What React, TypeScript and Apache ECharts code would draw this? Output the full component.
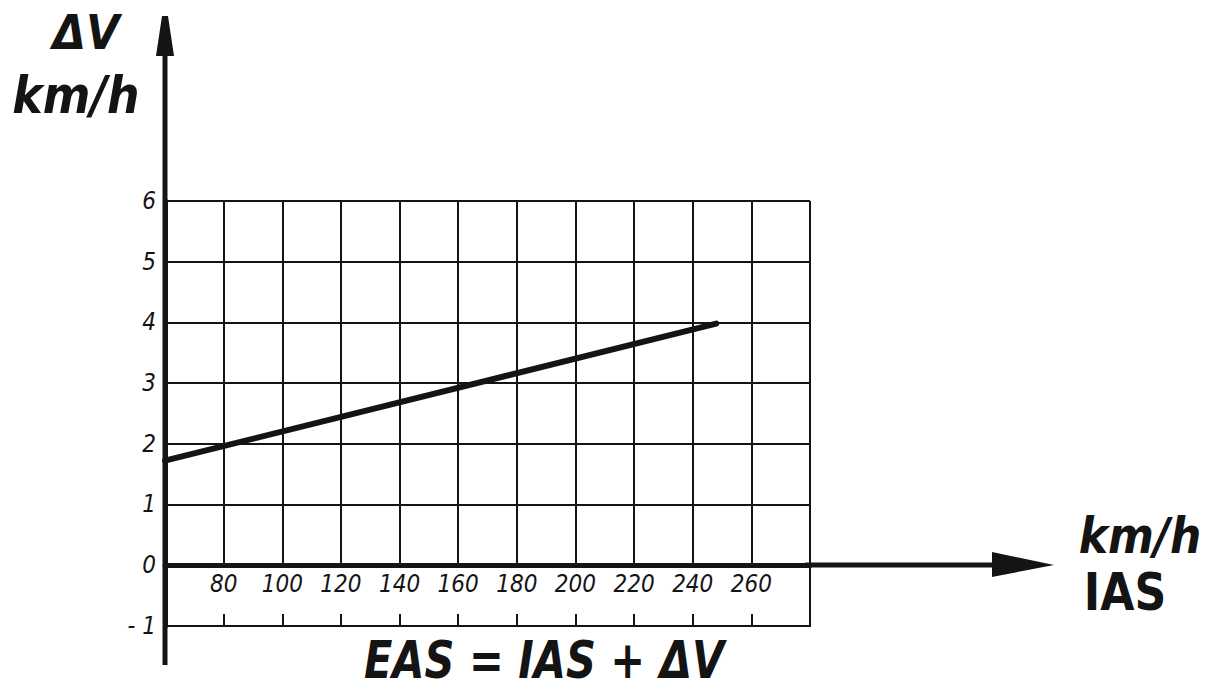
import React, { useEffect, useRef } from "react";
import * as echarts from "echarts";

// Data
const ias = [60, 248];            // km/h IAS
const deltaV = [1.72, 3.98];      // km/h correction
const xTickLabels = ["80", "100", "120", "140", "160", "180", "200", "220", "240", "260"];
const yTickLabels = ["0", "1", "2", "3", "4", "5", "6"];
const yLowerLabel = "- 1";

const INK = "#141414";
const LABEL_FONT = "'Liberation Sans Narrow', 'DejaVu Sans Condensed', 'Liberation Sans', sans-serif";
const BIG_FONT = "'DejaVu Sans', 'Liberation Sans', sans-serif";

export default function App() {
  const ref = useRef<HTMLDivElement>(null);

  useEffect(() => {
    if (!ref.current) return;
    const chart = echarts.init(ref.current, undefined, { renderer: "svg" });

    const option: any = {
      animation: false,
      backgroundColor: "#ffffff",
      grid: [
        { left: 165, right: 406, top: 201, height: 364 },
        { left: 165, right: 406, top: 565, height: 61 },
        { left: 165, right: 406, top: 614, height: 12 },
      ],
      xAxis: [
        {
          gridIndex: 0,
          type: "value",
          min: 60,
          max: 280,
          interval: 20,
          axisLine: { show: true, onZero: false, lineStyle: { color: INK, width: 5 } },
          axisTick: { show: false },
          axisLabel: {
            show: true,
            margin: 7,
            color: INK,
            fontSize: 24,
            fontStyle: "italic",
            fontFamily: LABEL_FONT,
            formatter: (v: number) => (xTickLabels.includes(String(v)) ? String(v) : ""),
          },
          splitLine: { show: true, lineStyle: { color: INK, width: 2 } },
        },
        {
          gridIndex: 1,
          type: "value",
          min: 60,
          max: 280,
          interval: 20,
          position: "bottom",
          axisLine: { show: true, onZero: false, lineStyle: { color: INK, width: 2 } },
          axisTick: { show: false },
          axisLabel: { show: false },
          splitLine: { show: false },
        },
        {
          gridIndex: 2,
          type: "value",
          min: 60,
          max: 280,
          interval: 20,
          axisLine: { show: false },
          axisTick: { show: false },
          axisLabel: { show: false },
          splitLine: { show: true, lineStyle: { color: INK, width: 2 } },
        },
      ],
      yAxis: [
        {
          gridIndex: 0,
          type: "value",
          min: 0,
          max: 6,
          interval: 1,
          axisLine: { show: true, onZero: false, lineStyle: { color: INK, width: 5 } },
          axisTick: { show: false },
          axisLabel: {
            show: true,
            margin: 9,
            color: INK,
            fontSize: 24,
            fontStyle: "italic",
            fontFamily: LABEL_FONT,
            formatter: (v: number) => (yTickLabels.includes(String(v)) ? String(v) : ""),
          },
          splitLine: { show: true, lineStyle: { color: INK, width: 2 } },
        },
        {
          gridIndex: 1,
          type: "value",
          min: -1,
          max: 0,
          interval: 1,
          axisLine: { show: true, onZero: false, lineStyle: { color: INK, width: 5 } },
          axisTick: { show: false },
          axisLabel: {
            show: true,
            margin: 9,
            color: INK,
            fontSize: 24,
            fontStyle: "italic",
            fontFamily: LABEL_FONT,
            formatter: (v: number) => (v === -1 ? yLowerLabel : ""),
          },
          splitLine: { show: false },
        },
        {
          gridIndex: 1,
          type: "value",
          position: "right",
          min: -1,
          max: 0,
          interval: 1,
          axisLine: { show: true, onZero: false, lineStyle: { color: INK, width: 2 } },
          axisTick: { show: false },
          axisLabel: { show: false },
          splitLine: { show: false },
        },
        {
          gridIndex: 2,
          type: "value",
          show: false,
          min: 0,
          max: 1,
        },
      ],
      series: [
        {
          type: "line",
          xAxisIndex: 0,
          yAxisIndex: 0,
          data: ias.map((x, i) => [x, deltaV[i]]),
          symbol: "none",
          lineStyle: { color: INK, width: 6, cap: "round" },
          z: 5,
        },
      ],
    };
    chart.setOption(option);

    const origin = chart.convertToPixel({ gridIndex: 0 }, [60, 0]) as number[];
    const ax0 = origin[0];
    const ay0 = origin[1];

    const bigText = (text: string, x: number, y: number, size: number, sx: number, italic: boolean) => ({
      type: "text",
      x,
      y,
      scaleX: sx,
      style: {
        text,
        fill: INK,
        font: `${italic ? "italic " : ""}bold ${size}px ${BIG_FONT}`,
        align: "center",
        verticalAlign: "middle",
      },
      z: 10,
    });

    chart.setOption({
      graphic: [
        // vertical axis extension with arrow
        {
          type: "line",
          shape: { x1: ax0, y1: 50, x2: ax0, y2: 665 },
          style: { stroke: INK, lineWidth: 5 },
          z: 8,
        },
        {
          type: "polygon",
          shape: { points: [[ax0 - 9, 56], [ax0 + 9, 56], [ax0 + 3, 16], [ax0 - 3, 16]] },
          style: { fill: INK },
          z: 8,
        },
        // horizontal axis extension with arrow
        {
          type: "line",
          shape: { x1: 805, y1: ay0, x2: 996, y2: ay0 },
          style: { stroke: INK, lineWidth: 5 },
          z: 8,
        },
        {
          type: "polygon",
          shape: { points: [[992, ay0 - 13], [992, ay0 + 12], [1054, ay0]] },
          style: { fill: INK },
          z: 8,
        },
        bigText("ΔV", 86, 33, 48, 0.9, true),
        bigText("km/h", 76, 95, 52, 0.88, true),
        bigText("km/h", 1140, 535, 50, 0.88, true),
        bigText("IAS", 1125, 592, 52, 0.85, false),
        bigText("EAS = IAS + ΔV", 544, 660, 52, 0.8, true),
      ],
    });

    return () => {
      chart.dispose();
    };
  }, []);

  return (
    <div
      ref={ref}
      style={{ position: "fixed", left: 0, top: 0, width: 1216, height: 693, background: "#fff" }}
    />
  );
}
